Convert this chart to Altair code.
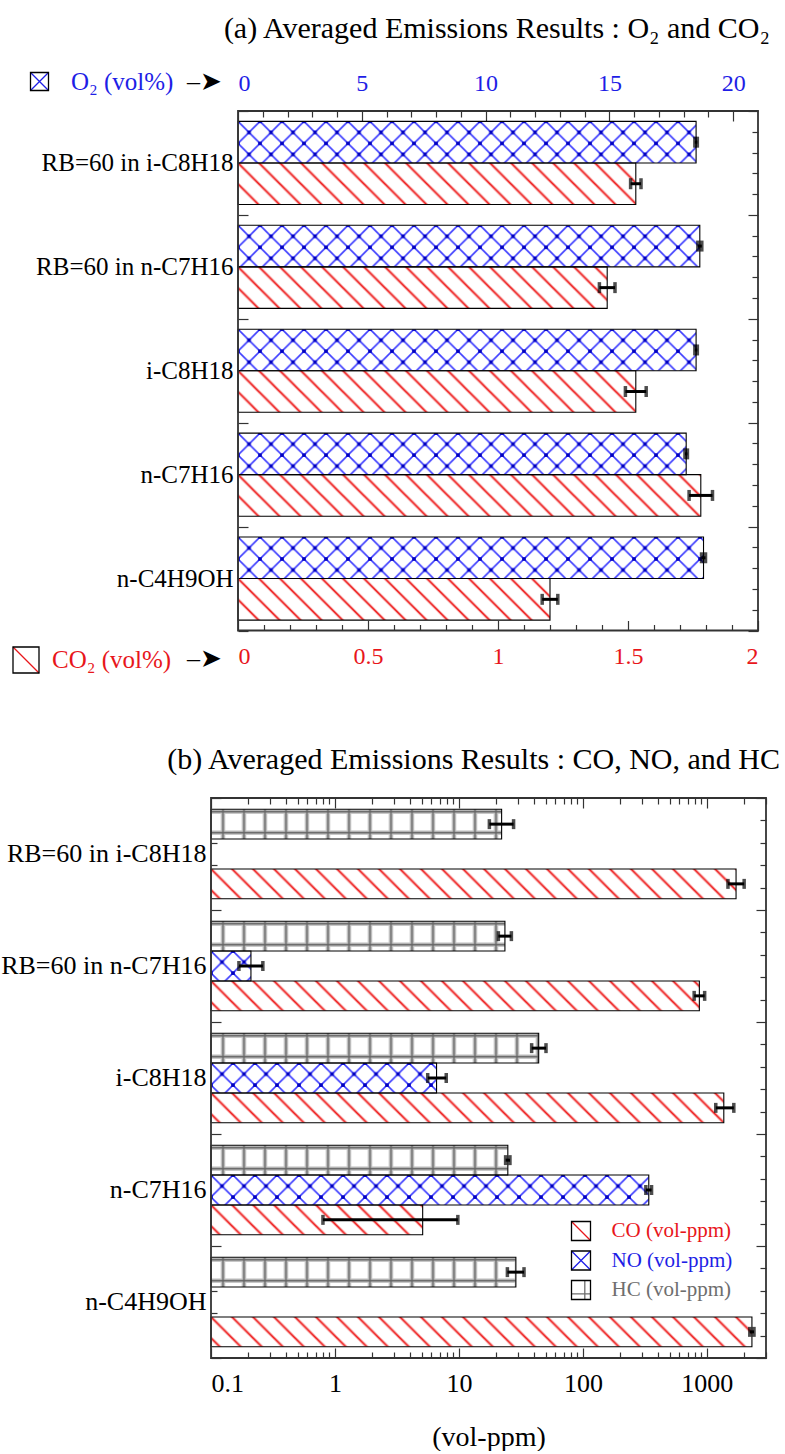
import base64
import altair as alt
import pandas as pd

# ---------------- data ----------------
categories = ["RB=60 in i-C8H18", "RB=60 in n-C7H16", "i-C8H18", "n-C7H16", "n-C4H9OH"]

# panel (a)
o2_values = [18.5, 18.65, 18.5, 18.1, 18.8]
o2_errors = [0.05, 0.08, 0.05, 0.05, 0.08]
co2_values = [1.53, 1.42, 1.53, 1.78, 1.20]
co2_errors = [0.02, 0.03, 0.04, 0.045, 0.03]

# panel (b)
hc_values = [22.1, 23.5, 44.0, 24.8, 28.8]
hc_low = [17.6, 20.8, 38.6, 23.8, 24.6]
hc_high = [27.6, 26.5, 50.4, 25.8, 33.5]
no_values = [None, 0.21, 6.6, 340.0, None]
no_low = [None, 0.168, 5.6, 322.0, None]
no_high = [None, 0.262, 7.9, 358.0, None]
co_values = [1720.0, 870.0, 1370.0, 5.1, 2310.0]
co_low = [1480.0, 790.0, 1180.0, 0.8, 2220.0]
co_high = [2000.0, 960.0, 1650.0, 9.8, 2400.0]

o2_ticks = [0, 5, 10, 15, 20]
co2_ticks = [0, 0.5, 1, 1.5, 2]
ppm_ticks = [0.1, 1, 10, 100, 1000]

# ---------------- styling ----------------
FONT = "Liberation Serif"
RED = "#e8161b"
BLUE = "#1e1ee6"
GREY = "#6e6e6e"
INK = "#333333"

W = 555                        # both panels share one group width
HA, XA0, XA1 = 519.5, 27, 547  # panel a: plot frame runs from x=27 to 547
HB = 560
RA = W - XA1                   # right inset of panel a frame

o2_minor = [v for v in range(1, 21) if v % 5]
co2_minor = [round(i * 0.1, 1) for i in range(1, 20) if i % 5]
ppm_minor = [round(k * 10.0 ** e, 3) for e in range(-1, 4) for k in range(2, 10) if k * 10.0 ** e <= 3000]
y_minor = [round(i * 0.2, 1) for i in range(1, 25) if i % 5]
y_major = [0, 1, 2, 3, 4, 5]


def svg_uri(tile, body):
    svg = ("<svg xmlns='http://www.w3.org/2000/svg' width='100%' height='100%'>"
           f"<defs><pattern id='p' x='0' y='0' width='{tile}' height='{tile}' patternUnits='userSpaceOnUse'>{body}</pattern></defs>"
           "<rect x='0' y='0' width='100%' height='100%' fill='white'/>"
           "<rect x='0' y='0' width='100%' height='100%' fill='url(#p)'/></svg>")
    return "data:image/svg+xml;base64," + base64.b64encode(svg.encode("utf-8")).decode("ascii")


HATCH_RED = svg_uri(21, "<path d='M-2,-2L23,23M-12,9L2,23M9,-12L23,2' stroke='#f8b0b0' stroke-width='3' fill='none'/>"
                        "<path d='M-2,-2L23,23M-12,9L2,23M9,-12L23,2' stroke='#ee1c1c' stroke-width='1.4' fill='none'/>")
CROSS_BLUE = svg_uri(22, "<path d='M-2,-2L24,24M-13,9L2,24M9,-13L24,2M-2,24L24,-2M-2,2L2,-2M20,24L24,20' "
                         "stroke='#3a3aff' stroke-width='1.6' fill='none'/>"
                         "<g fill='#0000c0'><rect x='9.2' y='9.2' width='3.6' height='3.6'/>"
                         "<rect x='-1.8' y='-1.8' width='3.6' height='3.6'/><rect x='20.2' y='-1.8' width='3.6' height='3.6'/>"
                         "<rect x='-1.8' y='20.2' width='3.6' height='3.6'/><rect x='20.2' y='20.2' width='3.6' height='3.6'/></g>")
GRID_GREY = svg_uri(21, "<path d='M12,-1V22M-1,2.5H22' stroke='#c8c8c8' stroke-width='4.5' fill='none'/>"
                        "<path d='M12,-1V22M-1,2.5H22' stroke='#666666' stroke-width='1.6' fill='none'/>")

PATH_BOX = "M-1,-1H1V1H-1Z"
PATH_X = "M-1,-1L1,1 M1,-1L-1,1"
PATH_DIAG = "M-1,-1L1,1"
PATH_GRID = "M0.4,-1V1 M-1,0.4H1"

dummy = pd.DataFrame({"d": [0]})
band_scale = alt.Scale(domain=categories, paddingInner=0.2, paddingOuter=0.1)
q_scale = alt.Scale(domain=[0, 5], reverse=True, nice=False, zero=False)


def y_band(axis=None):
    return alt.Y("cat:N", scale=band_scale, sort=categories, title=None, axis=axis)


def y_off(domain):
    return alt.YOffset("gas:N", scale=alt.Scale(domain=domain, paddingInner=0, paddingOuter=0))


def tick_axis(orient, values, size, offset):
    return alt.Axis(orient=orient, values=values, tickSize=size, offset=offset, labels=False,
                    domain=False, grid=False, ticks=True, tickColor=INK, tickWidth=1.2, title=None)


def ytick_layer(axis):
    return alt.Chart(dummy).mark_point(opacity=0).encode(y=alt.Y("d:Q", scale=q_scale, axis=axis))


def legend_layer(label, color, path, lx, ly, size, fsize, loff, name, label_color=None, symbol_opacity=1):
    leg = alt.Legend(orient="none", legendX=lx, legendY=ly, title=None, symbolSize=size,
                     symbolStrokeWidth=1.3, symbolOpacity=symbol_opacity, labelFont=FONT,
                     labelFontSize=fsize, labelColor=label_color or color,
                     labelOffset=loff, labelLimit=600, padding=0)
    return alt.Chart(pd.DataFrame({name: [label]})).transform_filter("false").mark_point().encode(
        color=alt.Color(f"{name}:N", scale=alt.Scale(domain=[label], range=[color]), legend=leg),
        shape=alt.Shape(f"{name}:N", scale=alt.Scale(domain=[label], range=[path]), legend=leg),
    )


def swatch(label, color, path, lx, ly, size, fsize, loff, name):
    """A legend entry whose swatch is a coloured pattern inside a black box."""
    return [
        legend_layer(label, color, path, lx, ly, size, fsize, loff, name),
        legend_layer(" ", "black", PATH_BOX, lx, ly, size, fsize, loff, name + "_box", label_color="transparent"),
    ]


# ---------------- panel (a) ----------------
df_o2 = pd.DataFrame({"cat": categories, "gas": "O2", "value": o2_values,
                      "lo": [v - e for v, e in zip(o2_values, o2_errors)],
                      "hi": [v + e for v, e in zip(o2_values, o2_errors)]})
df_co2 = pd.DataFrame({"cat": categories, "gas": "CO2", "value": co2_values,
                       "lo": [v - e for v, e in zip(co2_values, co2_errors)],
                       "hi": [v + e for v, e in zip(co2_values, co2_errors)]})

sx_o2 = alt.Scale(domain=[0, 21], range=[XA0, XA1], nice=False, zero=False)
sx_co2 = alt.Scale(domain=[0, 2], range=[XA0, XA1], nice=False, zero=False)
gas_a = ["O2", "CO2"]

o2_img = alt.Chart(df_o2).mark_image(aspect=False).encode(
    x=alt.X("value:Q", scale=sx_o2, title=None,
            axis=alt.Axis(orient="top", values=o2_ticks, format="~g", tickSize=10, offset=-10, domain=False,
                          grid=False, tickColor=INK, tickWidth=1.2, labelColor=BLUE, labelFontSize=24,
                          labelPadding=16, labelFont=FONT, title=None)),
    x2=alt.datum(0),
    y=y_band(alt.Axis(orient="left", offset=-XA0, domain=False, ticks=False, grid=False, labelPadding=5,
                      labelFontSize=25, labelFont=FONT, labelColor="black", labelLimit=400)),
    yOffset=y_off(gas_a),
    url=alt.value(CROSS_BLUE),
)
o2_out = alt.Chart(df_o2).mark_bar(fill="transparent", stroke="black", strokeWidth=1.1).encode(
    x=alt.X("value:Q", scale=sx_o2, title=None, axis=tick_axis("top", o2_minor, 6, -6)),
    x2=alt.datum(0), y=y_band(), yOffset=y_off(gas_a))
co2_img = alt.Chart(df_co2).mark_image(aspect=False).encode(
    x=alt.X("value:Q", scale=sx_co2, title=None,
            axis=alt.Axis(orient="bottom", values=co2_ticks, format="~g", tickSize=10, offset=-10, domain=False,
                          grid=False, tickColor=INK, tickWidth=1.2, labelColor=RED, labelFontSize=24,
                          labelPadding=14, labelFont=FONT, title=None)),
    x2=alt.datum(0), y=y_band(), yOffset=y_off(gas_a), url=alt.value(HATCH_RED))
co2_out = alt.Chart(df_co2).mark_bar(fill="transparent", stroke="black", strokeWidth=1.1).encode(
    x=alt.X("value:Q", scale=sx_co2, title=None, axis=tick_axis("bottom", co2_minor, 6, -6)),
    x2=alt.datum(0), y=y_band(), yOffset=y_off(gas_a))

o2_rule = alt.Chart(df_o2).mark_rule(color="black", strokeWidth=3).encode(
    x=alt.X("lo:Q", scale=sx_o2, axis=None), x2="hi:Q", y=y_band(), yOffset=y_off(gas_a))
o2_caps = alt.Chart(df_o2).transform_fold(["lo", "hi"], as_=["end", "ev"]).mark_tick(
    color="black", thickness=3.5, size=11).encode(
    x=alt.X("ev:Q", scale=sx_o2, axis=None), y=y_band(), yOffset=y_off(gas_a))
co2_rule = alt.Chart(df_co2).mark_rule(color="black", strokeWidth=3).encode(
    x=alt.X("lo:Q", scale=sx_co2, axis=None), x2="hi:Q", y=y_band(), yOffset=y_off(gas_a))
co2_caps = alt.Chart(df_co2).transform_fold(["lo", "hi"], as_=["end", "ev"]).mark_tick(
    color="black", thickness=3.5, size=11).encode(
    x=alt.X("ev:Q", scale=sx_co2, axis=None), y=y_band(), yOffset=y_off(gas_a))

frame_a = alt.Chart(dummy).mark_rect(fill="transparent", stroke=INK, strokeWidth=1.8).encode(
    x=alt.X("d:Q", scale=sx_o2, axis=None), x2=alt.datum(21),
    y=alt.Y("d:Q", scale=q_scale, axis=tick_axis("left", y_major, 10, -(XA0 + 10))), y2=alt.datum(5))

panel_a = alt.layer(
    o2_img, co2_img, o2_out, co2_out, o2_rule, o2_caps, co2_rule, co2_caps, frame_a,
    ytick_layer(tick_axis("left", y_minor, 6, -(XA0 + 6))),
    ytick_layer(tick_axis("right", y_major, 10, -(RA + 10))),
    ytick_layer(tick_axis("right", y_minor, 6, -(RA + 6))),
    *swatch("O₂ (vol%)", BLUE, PATH_X, -184, -42, 324, 25, 19, "lo2"),
    legend_layer("–➤", "black", PATH_BOX, -50, -42, 1, 26, 0, "lo2a", symbol_opacity=0),
    *swatch("CO₂ (vol%)", RED, PATH_DIAG, -199, 535, 676, 25, 12, "lco2"),
    legend_layer("–➤", "black", PATH_BOX, -50, 535, 1, 26, 0, "lco2a", symbol_opacity=0),
).resolve_scale(x="independent", y="independent", yOffset="independent",
                color="independent", shape="independent").resolve_legend(
    color="independent", shape="independent").properties(
    width=W, height=HA,
    title=alt.Title("(a) Averaged Emissions Results : O₂ and CO₂", anchor="end", frame="group", font=FONT,
                    fontSize=30, fontWeight="normal", color="black", offset=25, dx=4))

# ---------------- panel (b) ----------------
def species_df(name, vals, lows, highs):
    rows = [{"cat": c, "gas": name, "value": v, "lo": l, "hi": h}
            for c, v, l, h in zip(categories, vals, lows, highs) if v is not None]
    return pd.DataFrame(rows)


df_hc = species_df("HC", hc_values, hc_low, hc_high)
df_no = species_df("NO", no_values, no_low, no_high)
df_co = species_df("CO", co_values, co_low, co_high)
df_b = pd.concat([df_hc, df_no, df_co], ignore_index=True)

sx_b = alt.Scale(type="log", domain=[0.1, 3000], nice=False)
gas_b = ["HC", "NO", "CO"]


def img_b(df, uri, axis=None, yaxis=None):
    return alt.Chart(df).mark_image(aspect=False).encode(
        x=alt.X("value:Q", scale=sx_b, title=None, axis=axis), x2=alt.datum(0.1),
        y=y_band(yaxis), yOffset=y_off(gas_b), url=alt.value(uri))


def out_b(df, axis=None):
    return alt.Chart(df).mark_bar(fill="transparent", stroke="black", strokeWidth=1.1).encode(
        x=alt.X("value:Q", scale=sx_b, title=None, axis=axis), x2=alt.datum(0.1),
        y=y_band(), yOffset=y_off(gas_b))


co_img = img_b(df_co, HATCH_RED,
               axis=alt.Axis(orient="bottom", values=ppm_ticks, format="~g", tickSize=10, offset=-10,
                             domain=False, grid=False, tickColor=INK, tickWidth=1.2, labelColor="black",
                             labelFontSize=26, labelPadding=12, labelFont=FONT, title="(vol-ppm)",
                             titleFont=FONT, titleFontSize=28, titleFontWeight="normal", titleColor="black",
                             titlePadding=27),
               yaxis=alt.Axis(orient="left", domain=False, ticks=False, grid=False, labelPadding=5,
                              labelFontSize=26, labelFont=FONT, labelColor="black", labelLimit=400,
                              title=".", titleColor="transparent", titleAngle=0, titleX=-211, titleY=0,
                              titleAlign="left", titleBaseline="top"))
co_out = out_b(df_co, axis=tick_axis("bottom", ppm_minor, 6, -6))
no_img = img_b(df_no, CROSS_BLUE, axis=tick_axis("top", ppm_ticks, 10, -10))
no_out = out_b(df_no, axis=tick_axis("top", ppm_minor, 6, -6))
hc_img = img_b(df_hc, GRID_GREY)
hc_out = out_b(df_hc)

err_rule_b = alt.Chart(df_b).mark_rule(color="black", strokeWidth=3).encode(
    x=alt.X("lo:Q", scale=sx_b, axis=None), x2="hi:Q", y=y_band(), yOffset=y_off(gas_b))
err_caps_b = alt.Chart(df_b).transform_fold(["lo", "hi"], as_=["end", "ev"]).mark_tick(
    color="black", thickness=3.5, size=10).encode(
    x=alt.X("ev:Q", scale=sx_b, axis=None), y=y_band(), yOffset=y_off(gas_b))

frame_b = alt.Chart(dummy).mark_rect(fill="transparent", stroke=INK, strokeWidth=1.8).encode(
    x=alt.XDatum(0.1, type="quantitative", scale=sx_b, axis=None), x2=alt.datum(3000),
    y=alt.Y("d:Q", scale=q_scale, axis=tick_axis("left", y_major, 10, -10)), y2=alt.datum(5))

panel_b = alt.layer(
    hc_img, no_img, co_img, hc_out, no_out, co_out, err_rule_b, err_caps_b, frame_b,
    ytick_layer(tick_axis("left", y_minor, 6, -6)),
    ytick_layer(tick_axis("right", y_major, 10, -10)),
    ytick_layer(tick_axis("right", y_minor, 6, -6)),
    *swatch("CO (vol-ppm)", RED, PATH_DIAG, 359.5, 422.5, 361, 21, 20, "lco"),
    *swatch("NO (vol-ppm)", BLUE, PATH_X, 359.5, 452, 361, 21, 20, "lno"),
    *swatch("HC (vol-ppm)", GREY, PATH_GRID, 359.5, 481.5, 361, 21, 20, "lhc"),
).resolve_scale(x="independent", y="independent", yOffset="independent",
                color="independent", shape="independent").resolve_legend(
    color="independent", shape="independent").properties(
    width=W, height=HB,
    title=alt.Title("(b) Averaged Emissions Results : CO, NO, and HC", anchor="end", frame="group", font=FONT,
                    fontSize=30, fontWeight="normal", color="black", offset=20, dx=14))

chart = alt.vconcat(panel_a, panel_b, spacing=69).resolve_scale(
    color="independent", shape="independent").properties(
    padding={"left": 0, "top": 14, "right": 0, "bottom": 0}
).configure_view(strokeWidth=0).configure_axis(labelFont=FONT, titleFont=FONT)

chart.save("out.html", embed_options={"renderer": "svg", "actions": False})
